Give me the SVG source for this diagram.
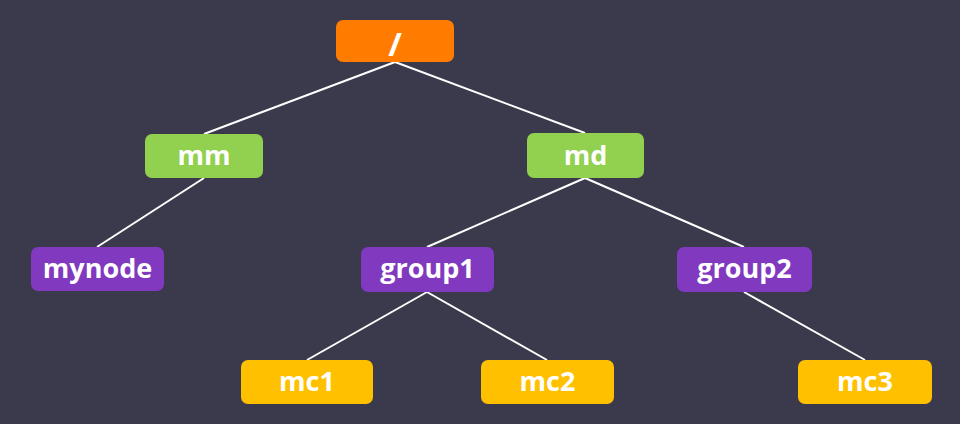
<svg xmlns="http://www.w3.org/2000/svg" width="960" height="424" viewBox="0 0 960 424">
<style>
.box{stroke:none}
.root{fill:#ff7c00}
.green{fill:#92d050}
.purple{fill:#8039bf}
.yellow{fill:#ffc000}
text{font-family:"Open Sans","Liberation Sans",sans-serif;font-weight:bold;font-size:27px;fill:#ffffff;text-anchor:middle}
.edge{stroke:#ffffff;stroke-width:2;fill:none}
</style>
<rect width="960" height="424" fill="#3a3a4c"/>
<g id="connectors">
<line class="edge" x1="395" y1="62" x2="204" y2="134"/>
<line class="edge" x1="395" y1="62" x2="585" y2="133"/>
<line class="edge" x1="204" y1="178" x2="97" y2="247"/>
<line class="edge" x1="585" y1="178" x2="427" y2="247"/>
<line class="edge" x1="585" y1="178" x2="744" y2="247"/>
<line class="edge" x1="427" y1="292" x2="307" y2="360"/>
<line class="edge" x1="427" y1="292" x2="547" y2="360"/>
<line class="edge" x1="744" y1="292" x2="865" y2="360"/>
</g>
<g id="node-root"><rect class="box root" x="336" y="20" width="118" height="42" rx="7"/><text x="395" y="56" style="font-size:33px">/</text></g>
<g id="node-mm"><rect class="box green" x="145" y="134" width="118" height="44" rx="7"/><text x="204" y="165">mm</text></g>
<g id="node-md"><rect class="box green" x="527" y="133" width="117" height="45" rx="7"/><text x="585.5" y="165">md</text></g>
<g id="node-mynode"><rect class="box purple" x="31" y="247" width="133" height="44" rx="7"/><text x="97.5" y="278">mynode</text></g>
<g id="node-group1"><rect class="box purple" x="361" y="247" width="133" height="45" rx="7"/><text x="427.5" y="278">group1</text></g>
<g id="node-group2"><rect class="box purple" x="677" y="247" width="135" height="45" rx="7"/><text x="744.5" y="278">group2</text></g>
<g id="node-mc1"><rect class="box yellow" x="241" y="360" width="132" height="44" rx="7"/><text x="307" y="391">mc1</text></g>
<g id="node-mc2"><rect class="box yellow" x="481" y="360" width="133" height="44" rx="7"/><text x="547.5" y="391">mc2</text></g>
<g id="node-mc3"><rect class="box yellow" x="798" y="360" width="134" height="44" rx="7"/><text x="865" y="391">mc3</text></g>
</svg>
